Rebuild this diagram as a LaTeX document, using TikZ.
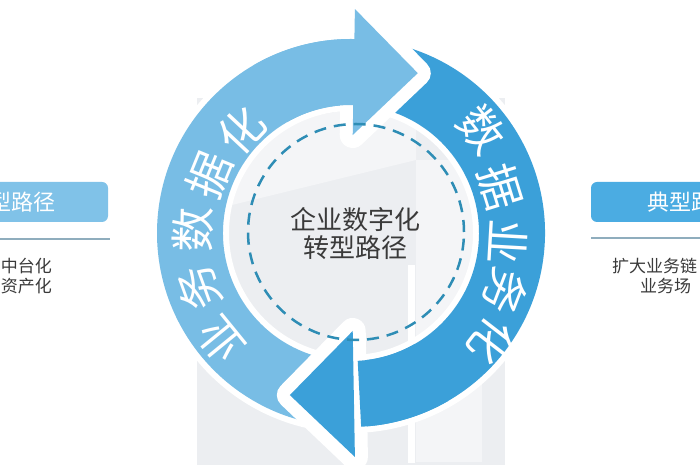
\documentclass[tikz,border=0pt]{standalone}
\usepackage{fontspec}
\newfontfamily\cjk{Noto Sans CJK SC}
\definecolor{lightarrow}{HTML}{78BDE5}
\definecolor{darkarrow}{HTML}{3BA0D9}
\definecolor{leftbox}{HTML}{80C2E8}
\definecolor{rightbox}{HTML}{4BACE2}
\definecolor{bggray}{HTML}{ECEEF1}
\definecolor{bglight}{HTML}{F4F5F7}
\definecolor{dashc}{HTML}{2E8DB5}
\definecolor{txtc}{HTML}{3A3A3A}
\definecolor{linec}{HTML}{8FADBD}
\begin{document}
\begin{tikzpicture}[x=1pt,y=1pt,
  ringtxt/.style={text=white,font=\cjk\fontsize{45}{45}\selectfont,inner sep=0pt},
  centertxt/.style={text=txtc,font=\cjk\fontsize{26}{30}\selectfont,inner sep=0pt,align=center},
  sidetxt/.style={text=txtc,font=\cjk\fontsize{17}{17}\selectfont,inner sep=0pt},
  titletxt/.style={text=white,font=\cjk\fontsize{22}{22}\selectfont,inner sep=0pt},
  headgap/.style={preaction={draw=white,line width=26pt,line join=round}},
  sepline/.style={draw=linec,line width=1.5pt}]
\useasboundingbox (0,0) rectangle (700,470);
\clip (0,0) rectangle (700,470);
\fill[white] (0,0) rectangle (700,470);
% faint background
\fill[bggray] (197,5) rectangle (505,372);
\fill[bglight] (416,8) rectangle (482,310);
\fill[white] (408,7) rectangle (415,205);
\fill[bglight] (232,265) -- (416,310) -- (416,372) -- (232,340) -- cycle;
\coordinate (C) at (351,237);
\begin{scope}[shift={(C)}]
  % white band around ring
  \fill[white,even odd rule] (0,0) circle[radius=200] (0,0) circle[radius=122];
  % shafts
  \fill[lightarrow] (89:194) arc[start angle=89,end angle=262,radius=194]
     -- (262:128) arc[start angle=262,end angle=89,radius=128] -- cycle;
  \fill[darkarrow] (80:194) arc[start angle=80,end angle=-89,radius=194]
     -- (-89:128) arc[start angle=-89,end angle=80,radius=128] -- cycle;
  % heads
  \begin{scope}[rotate=89]
    \path[headgap,fill=lightarrow] (224,0) -- (161,-64) -- (98,0) -- cycle;
  \end{scope}
  \begin{scope}[rotate=-89]
    \path[headgap,fill=darkarrow] (224,0) -- (161,-64) -- (98,0) -- cycle;
  \end{scope}
  % restore shafts next to the heads
  \fill[lightarrow] (87:194) arc[start angle=87,end angle=120,radius=194]
     -- (120:128) arc[start angle=120,end angle=87,radius=128] -- cycle;
  \fill[darkarrow] (-87:194) arc[start angle=-87,end angle=-60,radius=194]
     -- (-60:128) arc[start angle=-60,end angle=-87,radius=128] -- cycle;
\end{scope}
% dashed inner circle
\draw[dashc,line width=2.5pt,dash pattern=on 12pt off 8pt] (356,238) circle[radius=108];
% ring texts
\node[ringtxt,rotate=129.2] (l1) at (220,130) {业};
\node[ringtxt,rotate=109.9] (l2) at (199,182) {务};
\node[ringtxt,rotate=88.9]  (l3) at (193,240) {数};
\node[ringtxt,rotate=67.8]  (l4) at (209,295) {据};
\node[ringtxt,rotate=46.9]  (l5) at (241,340) {化};
\node[ringtxt,rotate=-51.8] (r1) at (482,340) {数};
\node[ringtxt,rotate=-72.8] (r2) at (500,283) {据};
\node[ringtxt,rotate=-93.3] (r3) at (508,228) {业};
\node[ringtxt,rotate=-111]  (r4) at (505,178) {务};
\node[ringtxt,rotate=-127.7] (r5) at (492,128) {化};
% center text
\node[centertxt] (ct1) at (355,250) {企业数字化};
\node[centertxt] (ct2) at (355,222) {转型路径};
% left panel
\fill[leftbox,rounded corners=6pt] (-100,248) rectangle (108,288);
\node[titletxt,anchor=east] (ltitle) at (56,268) {型路径};
\draw[sepline] (0,231) -- (110,231);
\node[sidetxt,anchor=east] (la) at (52,204) {中台化};
\node[sidetxt,anchor=east] (lb) at (52,184) {资产化};
% right panel
\fill[rightbox,rounded corners=6pt] (591,248) rectangle (800,288);
\node[titletxt,anchor=west] (rtitle) at (647,268) {典型路};
\draw[sepline] (591,232) -- (700,232);
\node[sidetxt,anchor=west] (ra) at (612,204) {扩大业务链};
\node[sidetxt,anchor=west] (rb) at (640,184) {业务场};
\end{tikzpicture}
\end{document}
